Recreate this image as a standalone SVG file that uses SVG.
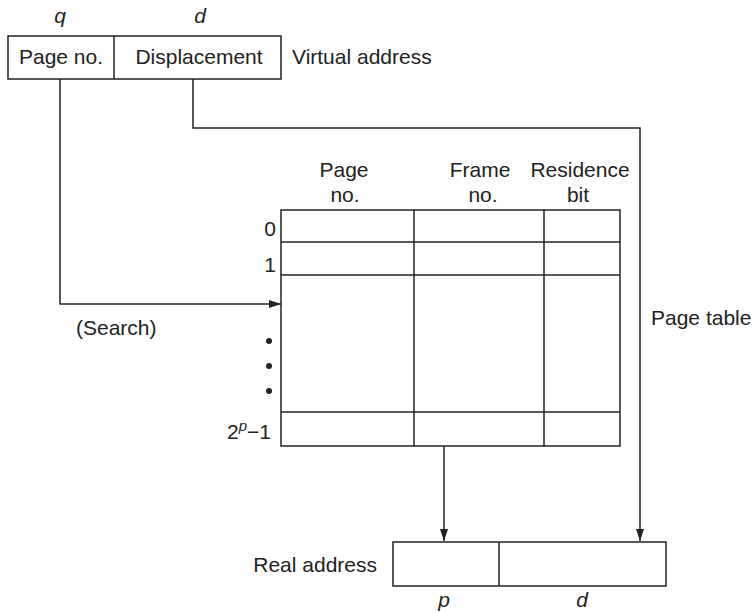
<svg xmlns="http://www.w3.org/2000/svg" width="754" height="613" viewBox="0 0 754 613">
<style>
text{font-family:"Liberation Sans",Arial,sans-serif;font-size:21px;fill:#222}
.i{font-style:italic}
.c{text-anchor:middle}
.e{text-anchor:end}
.box{fill:none;stroke:#222;stroke-width:1.5}
.ln{fill:none;stroke:#222;stroke-width:1.5}
</style>
<defs>
<marker id="ah" viewBox="0 0 12 8" refX="12" refY="4" markerWidth="12" markerHeight="8" markerUnits="userSpaceOnUse" orient="auto">
<path d="M0,0 L12,4 L0,8 Z" fill="#222"/>
</marker>
</defs>
<rect width="754" height="613" fill="#fff"/>

<g id="virtual-address">
<rect class="box" x="8" y="36" width="273" height="43"/>
<line class="ln" x1="114" y1="36" x2="114" y2="79"/>
<text class="i c" x="60" y="23">q</text>
<text class="i c" x="200" y="23">d</text>
<text class="c" x="61" y="64">Page no.</text>
<text class="c" x="199" y="64">Displacement</text>
<text x="292" y="64">Virtual address</text>
</g>

<g id="page-table">
<rect class="box" x="281" y="210" width="339" height="236"/>
<line class="ln" x1="414" y1="210" x2="414" y2="446"/>
<line class="ln" x1="544" y1="210" x2="544" y2="446"/>
<line class="ln" x1="281" y1="242" x2="620" y2="242"/>
<line class="ln" x1="281" y1="275" x2="620" y2="275"/>
<line class="ln" x1="281" y1="412" x2="620" y2="412"/>
<text class="c" x="344" y="177">Page</text>
<text class="c" x="345" y="202">no.</text>
<text class="c" x="480" y="177">Frame</text>
<text class="c" x="483" y="202">no.</text>
<text class="c" x="580" y="177">Residence</text>
<text class="c" x="578" y="202">bit</text>
<text class="e" x="276" y="236">0</text>
<text class="e" x="276" y="272">1</text>
<circle cx="269" cy="341" r="3" fill="#222"/>
<circle cx="269" cy="366" r="3" fill="#222"/>
<circle cx="269" cy="391" r="3" fill="#222"/>
<text class="e" x="271" y="439">2<tspan class="i" font-size="15" dy="-8">p</tspan><tspan dy="8">−1</tspan></text>
<text x="651" y="325">Page table</text>
</g>

<g id="real-address">
<rect class="box" x="393" y="542" width="273" height="44"/>
<line class="ln" x1="499" y1="542" x2="499" y2="586"/>
<text class="e" x="377" y="572">Real address</text>
<text class="i c" x="444" y="607">p</text>
<text class="i c" x="582" y="607">d</text>
</g>

<g id="connectors">
<polyline class="ln" points="60,79 60,304 281,304" marker-end="url(#ah)"/>
<text x="76" y="335">(Search)</text>
<polyline class="ln" points="193,79 193,128 640,128 640,541" marker-end="url(#ah)"/>
<line class="ln" x1="444" y1="446" x2="444" y2="541" marker-end="url(#ah)"/>
</g>
</svg>
